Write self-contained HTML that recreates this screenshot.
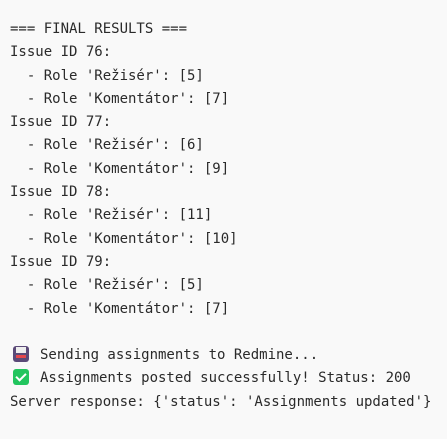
<!DOCTYPE html>
<html><head><meta charset="utf-8"><style>
html,body{margin:0;padding:0;background:#f9f9f9;width:447px;height:439px;overflow:hidden}
pre{margin:0;padding:18px 0 0 10px;font-family:"DejaVu Sans Mono",monospace;font-size:14px;line-height:23.3px;color:#2a2a2a;white-space:pre}
.ic{display:inline-block;width:16px;height:16px;vertical-align:-3px;margin:0 11px 0 3px;border-radius:3px;position:relative}
.disk{background:#5b4a78}
.disk:before{content:"";position:absolute;left:3px;top:1px;width:10px;height:6px;background:#eee}
.disk:after{content:"";position:absolute;left:3px;top:9px;width:10px;height:3px;background:#e5484d}
.chk{background:#22c55e}
.chk:after{content:"";position:absolute;left:5px;top:2px;width:4px;height:8px;border:solid #fff;border-width:0 2px 2px 0;transform:rotate(45deg)}
</style></head><body><pre>=== FINAL RESULTS ===
Issue ID 76:
  - Role 'Režisér': [5]
  - Role 'Komentátor': [7]
Issue ID 77:
  - Role 'Režisér': [6]
  - Role 'Komentátor': [9]
Issue ID 78:
  - Role 'Režisér': [11]
  - Role 'Komentátor': [10]
Issue ID 79:
  - Role 'Režisér': [5]
  - Role 'Komentátor': [7]

<span class="ic disk"></span>Sending assignments to Redmine...
<span class="ic chk"></span>Assignments posted successfully! Status: 200
Server response: {'status': 'Assignments updated'}</pre></body></html>
